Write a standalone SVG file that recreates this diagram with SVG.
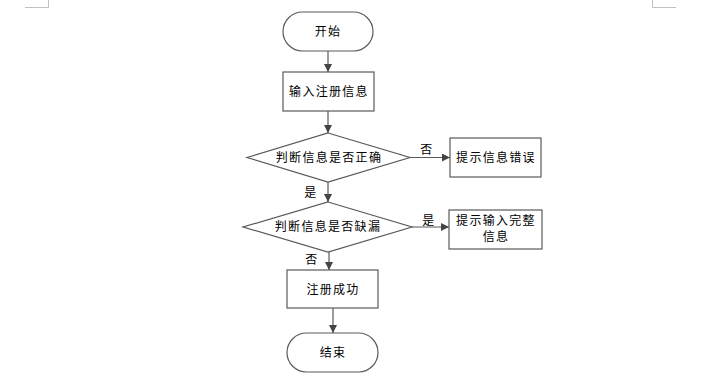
<svg xmlns="http://www.w3.org/2000/svg" width="715" height="389" viewBox="0 0 715 389">
<style>
.s{fill:#fff;stroke:#5a5a5a;stroke-width:1.2}
.t{font-family:"Noto Sans CJK SC","Liberation Sans",sans-serif;font-size:12px;fill:#000;text-anchor:middle;letter-spacing:1.3px}
.c{stroke:#5a5a5a;stroke-width:1.2;fill:none;marker-end:url(#a)}
.m{stroke:#c0c0c0;stroke-width:1;fill:none}
</style>
<defs>
<marker id="a" viewBox="0 0 10 10" refX="10" refY="5" markerWidth="8" markerHeight="8" markerUnits="userSpaceOnUse" orient="auto">
<path d="M0,0 L10,5 L0,10 z" fill="#444"/>
</marker>
</defs>
<rect width="715" height="389" fill="#fff"/>
<g id="marks">
<path class="m" d="M25,7.5 H48.5 V0"/>
<path class="m" d="M652.5,0 V7.5 H676"/>
</g>
<g id="connectors">
<line class="c" x1="328" y1="51" x2="328" y2="72"/>
<line class="c" x1="328" y1="111" x2="328" y2="133"/>
<line class="c" x1="410" y1="157.5" x2="450" y2="157.5"/>
<line class="c" x1="328" y1="182" x2="328" y2="202"/>
<line class="c" x1="412" y1="227" x2="449" y2="227"/>
<line class="c" x1="329" y1="252" x2="329" y2="270"/>
<line class="c" x1="333" y1="308" x2="333" y2="333"/>
<text class="t" x="427" y="154">否</text>
<text class="t" x="311" y="197">是</text>
<text class="t" x="429" y="225">是</text>
<text class="t" x="312" y="264">否</text>
</g>
<g id="start">
<rect class="s" x="283" y="12" width="90" height="39" rx="19.5"/>
<text class="t" x="328" y="36">开始</text>
</g>
<g id="input">
<rect class="s" x="283" y="72" width="91" height="39"/>
<text class="t" x="329" y="96">输入注册信息</text>
</g>
<g id="check1">
<polygon class="s" points="328,133 410,157.5 328,182 247,157.5"/>
<text class="t" x="329" y="162">判断信息是否正确</text>
</g>
<g id="err">
<rect class="s" x="450" y="138" width="91" height="39"/>
<text class="t" x="496" y="162">提示信息错误</text>
</g>
<g id="check2">
<polygon class="s" points="328,202 412,227 328,252 243,227"/>
<text class="t" x="328" y="231">判断信息是否缺漏</text>
</g>
<g id="hint">
<rect class="s" x="449" y="210" width="93" height="39"/>
<text class="t" x="496" y="225">提示输入完整</text>
<text class="t" x="496" y="241">信息</text>
</g>
<g id="ok">
<rect class="s" x="287" y="270" width="91" height="38"/>
<text class="t" x="333" y="294">注册成功</text>
</g>
<g id="end">
<rect class="s" x="287" y="333" width="91" height="39" rx="19.5"/>
<text class="t" x="333" y="357">结束</text>
</g>
</svg>
